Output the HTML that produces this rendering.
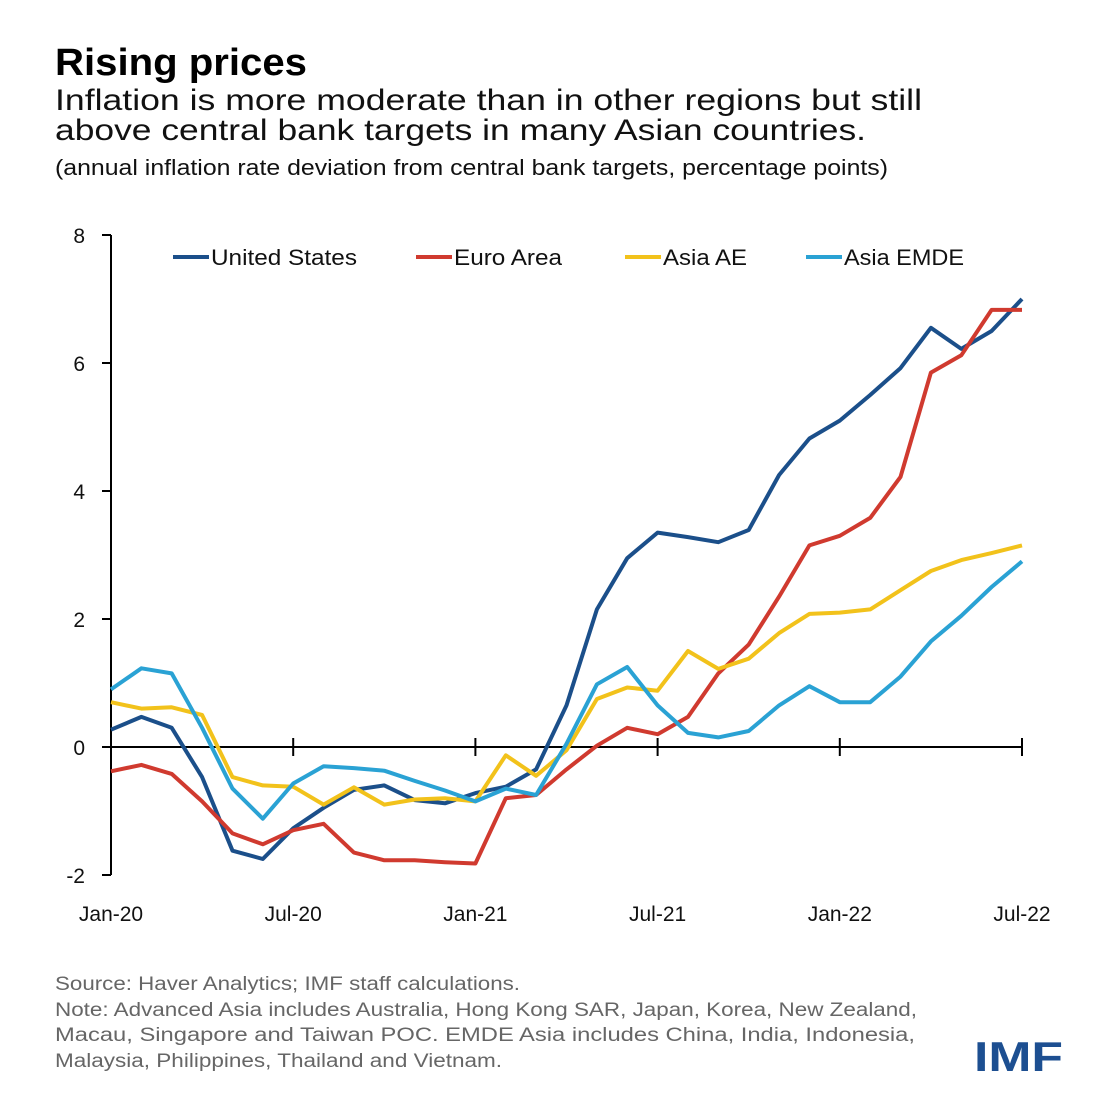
<!DOCTYPE html>
<html><head><meta charset="utf-8"><style>
html,body{margin:0;padding:0;background:#fff;}
svg{display:block;font-family:"Liberation Sans",sans-serif;}
</style></head><body>
<svg id="chart" width="1117" height="1117" viewBox="0 0 1117 1117">
<text x="55" y="75" font-size="38" font-weight="bold" fill="#000" textLength="252" lengthAdjust="spacingAndGlyphs">Rising prices</text>
<text x="55" y="110" font-size="30" fill="#111" textLength="867" lengthAdjust="spacingAndGlyphs">Inflation is more moderate than in other regions but still</text>
<text x="55" y="140" font-size="30" fill="#111" textLength="811" lengthAdjust="spacingAndGlyphs">above central bank targets in many Asian countries.</text>
<text x="55" y="175" font-size="22" fill="#111" textLength="833" lengthAdjust="spacingAndGlyphs">(annual inflation rate deviation from central bank targets, percentage points)</text>
<g id="axes"></g>
<g id="series"></g>
<g id="legend"></g>
<text x="55" y="990" font-size="19" fill="#666" textLength="465" lengthAdjust="spacingAndGlyphs">Source: Haver Analytics; IMF staff calculations.</text>
<text x="55" y="1016" font-size="19" fill="#666" textLength="862" lengthAdjust="spacingAndGlyphs">Note: Advanced Asia includes Australia, Hong Kong SAR, Japan, Korea, New Zealand,</text>
<text x="55" y="1041" font-size="19" fill="#666" textLength="860" lengthAdjust="spacingAndGlyphs">Macau, Singapore and Taiwan POC. EMDE Asia includes China, India, Indonesia,</text>
<text x="55" y="1067" font-size="19" fill="#666" textLength="447" lengthAdjust="spacingAndGlyphs">Malaysia, Philippines, Thailand and Vietnam.</text>
<text x="974" y="1071" font-size="42" font-weight="bold" fill="#1d4f91" textLength="89" lengthAdjust="spacingAndGlyphs">IMF</text>
</svg>
<script>
const months = 31;
const xLabels = ["Jan-20","Jul-20","Jan-21","Jul-21","Jan-22","Jul-22"];
const xLabelIdx = [0,6,12,18,24,30];
const yTicks = [-2,0,2,4,6,8];
const seriesNames = ["United States","Euro Area","Asia AE","Asia EMDE"];
const usValues = [0.27,0.47,0.3,-0.47,-1.62,-1.75,-1.27,-0.95,-0.67,-0.6,-0.83,-0.88,-0.72,-0.62,-0.35,0.65,2.15,2.95,3.35,3.28,3.2,3.39,4.25,4.82,5.1,5.5,5.92,6.55,6.22,6.5,7.0];
const euroValues = [-0.38,-0.28,-0.42,-0.85,-1.35,-1.52,-1.3,-1.2,-1.65,-1.77,-1.77,-1.8,-1.82,-0.8,-0.75,-0.35,0.02,0.3,0.2,0.47,1.15,1.6,2.35,3.15,3.3,3.58,4.22,5.85,6.12,6.83,6.83];
const asiaAeValues = [0.7,0.6,0.62,0.5,-0.47,-0.6,-0.62,-0.9,-0.63,-0.9,-0.82,-0.8,-0.85,-0.13,-0.45,-0.05,0.75,0.93,0.88,1.5,1.22,1.38,1.78,2.08,2.1,2.15,2.45,2.75,2.92,3.03,3.15];
const asiaEmdeValues = [0.9,1.23,1.15,0.3,-0.65,-1.12,-0.57,-0.3,-0.33,-0.37,-0.53,-0.68,-0.85,-0.65,-0.75,0.05,0.98,1.25,0.65,0.22,0.15,0.25,0.65,0.95,0.7,0.7,1.1,1.65,2.05,2.5,2.9];
const colors = ["#1b4f8a","#d03a2f","#f2c21b","#2aa2d4"];
const NS = "http://www.w3.org/2000/svg";
const X0=111, X1=1022, Y0=747, PX=64;
function xs(i){return X0+(X1-X0)*i/(months-1);}
function ys(v){return Y0-v*PX;}
function mk(tag,attrs,parent){const e=document.createElementNS(NS,tag);for(const k in attrs)e.setAttribute(k,attrs[k]);parent.appendChild(e);return e;}
const axes=document.getElementById('axes');
let e=mk('line',{x1:X0,y1:ys(8),x2:X0,y2:ys(-2),stroke:'#000','stroke-width':2},axes);


yTicks.forEach(t=>{
  const tk=mk('line',{x1:X0-9,y1:ys(t),x2:X0,y2:ys(t),stroke:'#000','stroke-width':2},axes);
  
  
  const lb=mk('text',{x:85,y:ys(t)+8,'font-size':21,'text-anchor':'end',fill:'#111'},axes);
  lb.textContent=t;
  
  
});
e=mk('line',{x1:X0-9,y1:Y0,x2:X1,y2:Y0,stroke:'#000','stroke-width':2},axes);


xLabelIdx.forEach((idx,k)=>{
  const tk=mk('line',{x1:xs(idx),y1:Y0-9,x2:xs(idx),y2:Y0+9,stroke:'#000','stroke-width':2},axes);
  
  
  const lb=mk('text',{x:xs(idx),y:921,'font-size':21,'text-anchor':'middle',fill:'#111'},axes);
  lb.textContent=xLabels[k];
  
  
});
const sg=document.getElementById('series');
const allSeries=[usValues,euroValues,asiaAeValues,asiaEmdeValues];
const seriesKeys=['us','euro-area','asia-ae','asia-emde'];
allSeries.forEach((vals,s)=>{
  const d=vals.map((v,i)=>(i?'L':'M')+xs(i).toFixed(1)+' '+ys(v).toFixed(1)).join(' ');
  const p=mk('path',{d:d,fill:'none',stroke:colors[s],'stroke-width':4,'stroke-linejoin':'round'},sg);
  
  
});
const lg=document.getElementById('legend');
const legX=[173,416,625,806];
const legW=[146,108,84,120];
seriesNames.forEach((n,s)=>{
  const l=mk('line',{x1:legX[s],y1:257,x2:legX[s]+36,y2:257,stroke:colors[s],'stroke-width':4},lg);
  
  
  const t=mk('text',{x:legX[s]+38,y:265,'font-size':22,fill:'#111',textLength:legW[s],lengthAdjust:'spacingAndGlyphs'},lg);
  t.textContent=n;
  
  
});
</script>
</body></html>
